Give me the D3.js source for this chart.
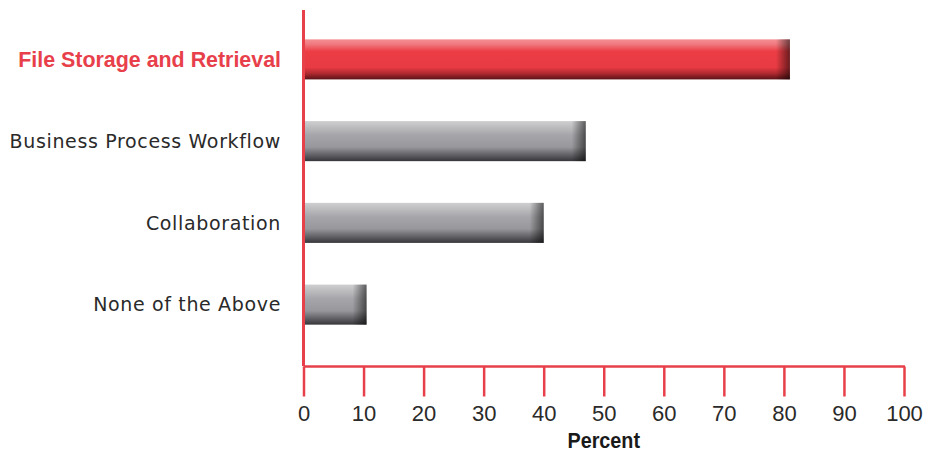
<!DOCTYPE html>
<html>
<head>
<meta charset="utf-8">
<script src="https://cdn.jsdelivr.net/npm/d3@7"></script>
<style>
  html, body { margin: 0; padding: 0; background: #fff; }
  svg { display: block; }
</style>
</head>
<body>
<svg id="chart" width="929" height="454"></svg>
<script>
// Share of respondents by use case
const categories = ["File Storage and Retrieval", "Business Process Workflow", "Collaboration", "None of the Above"];
const values = [81, 47, 40, 10.5];
const highlighted = ["File Storage and Retrieval"];
const tickValues = [0, 10, 20, 30, 40, 50, 60, 70, 80, 90, 100];
const axisTitle = "Percent";

const RED = "#e8404a";
const svg = d3.select("#chart");

const x = d3.scaleLinear().domain([0, 100]).range([303.5, 904]);
const y = d3.scaleBand().domain(categories).range([18.5, 345.5]).paddingInner(0.51).paddingOuter(0.255);

const defs = svg.append("defs");
function vGrad(id, stops) {
  const g = defs.append("linearGradient").attr("id", id)
    .attr("x1", 0).attr("y1", 0).attr("x2", 0).attr("y2", 1);
  stops.forEach(([o, c]) => g.append("stop").attr("offset", o).attr("stop-color", c));
}
vGrad("redFill", [[0, "#f49094"], [0.12, "#f07a80"], [0.3, "#ec3d45"], [0.7, "#e83a42"], [0.85, "#b02a30"], [1, "#5a1216"]]);
vGrad("grayFill", [[0, "#cfcfd1"], [0.15, "#bdbdc0"], [0.35, "#a6a6aa"], [0.65, "#98989c"], [0.85, "#606064"], [1, "#37373b"]]);
const hg = defs.append("linearGradient").attr("id", "endShade")
  .attr("x1", 0).attr("y1", 0).attr("x2", 1).attr("y2", 0);
hg.append("stop").attr("offset", 0).attr("stop-color", "#000").attr("stop-opacity", 0);
hg.append("stop").attr("offset", 1).attr("stop-color", "#000").attr("stop-opacity", 0.55);

const data = categories.map((c, i) => ({ cat: c, v: values[i], hi: highlighted.includes(c) }));

// bars
const bars = svg.append("g");
bars.selectAll("rect.bar").data(data).join("rect")
  .attr("class", "bar")
  .attr("x", x(0))
  .attr("y", d => y(d.cat))
  .attr("width", d => x(d.v) - x(0))
  .attr("height", y.bandwidth())
  .attr("fill", d => d.hi ? "url(#redFill)" : "url(#grayFill)");
// darkened right end of each bar
bars.selectAll("rect.shade").data(data).join("rect")
  .attr("class", "shade")
  .attr("x", d => x(d.v) - 14)
  .attr("y", d => y(d.cat))
  .attr("width", 14)
  .attr("height", y.bandwidth())
  .attr("fill", "url(#endShade)");

// category labels
svg.append("g").selectAll("text").data(data).join("text")
  .attr("x", 281)
  .attr("y", d => y(d.cat) + y.bandwidth() / 2)
  .attr("dy", "0.36em")
  .attr("text-anchor", "end")
  .attr("font-family", d => d.hi ? "'Liberation Sans', Arial, sans-serif" : "'DejaVu Sans', sans-serif")
  .attr("font-size", d => d.hi ? 21.4 : 19)
  .attr("letter-spacing", d => d.hi ? 0 : 0.65)
  .attr("font-weight", d => d.hi ? "bold" : "normal")
  .attr("fill", d => d.hi ? RED : "#2a2a2a")
  .text(d => d.cat);

// vertical axis line
svg.append("line")
  .attr("x1", x(0)).attr("x2", x(0))
  .attr("y1", 10).attr("y2", 366)
  .attr("stroke", RED).attr("stroke-width", 3);

// x axis
const xAxis = d3.axisBottom(x).tickValues(tickValues).tickSize(30).tickPadding(9).tickFormat(d3.format("d"));
const gx = svg.append("g").attr("transform", "translate(0,366.5)").call(xAxis);
gx.select(".domain").attr("d", `M${x(0)},0H${x(100) + 1}`).attr("stroke", RED).attr("stroke-width", 2.5);
gx.selectAll(".tick line").attr("stroke", RED).attr("stroke-width", 2.5);
gx.selectAll(".tick text")
  .attr("fill", "#2a2a2a")
  .attr("font-family", "'Liberation Sans', Arial, sans-serif")
  .attr("font-size", 22);

// axis title, slightly condensed
svg.append("text")
  .attr("transform", `translate(${(x(0) + x(100)) / 2},448) scale(0.9,1)`)
  .attr("text-anchor", "middle")
  .attr("font-family", "'Liberation Sans', Arial, sans-serif")
  .attr("font-weight", "bold")
  .attr("font-size", 22)
  .attr("fill", "#1a1a1a")
  .text(axisTitle);
</script>
</body>
</html>
